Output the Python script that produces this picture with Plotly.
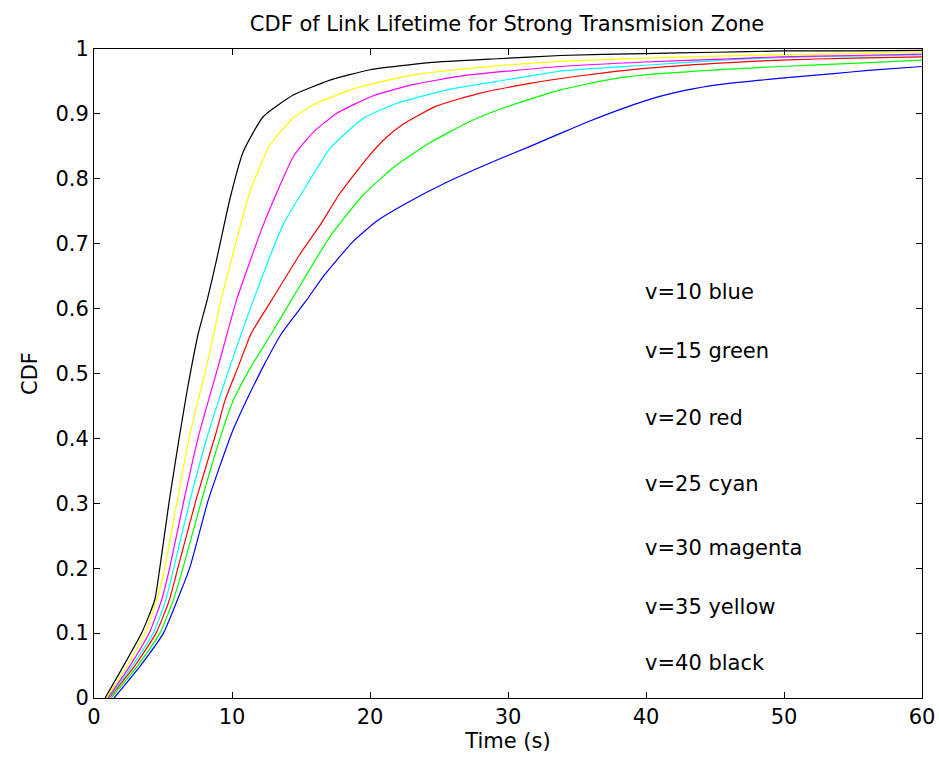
import plotly.graph_objects as go

# ---- data (time in s, CDF) ----
t_v10 = [1.45, 3.3, 5.03, 6.04, 6.96, 8.28, 9.98, 11.06, 12.27, 13.6, 15.4, 16.7, 18.8, 20.5, 22.7, 25.6, 29.2, 31.6, 33.8, 35.8, 38.4, 41.0, 43.5, 46.0, 49.8, 53.6, 56.1, 60]
c_v10 = [0, 0.048, 0.10, 0.151, 0.202, 0.305, 0.408, 0.459, 0.511, 0.562, 0.613, 0.652, 0.704, 0.735, 0.763, 0.795, 0.829, 0.850, 0.870, 0.888, 0.909, 0.927, 0.939, 0.947, 0.955, 0.962, 0.967, 0.973]

t_v15 = [1.25, 3.1, 4.78, 5.75, 6.47, 7.8, 9.25, 10.1, 11.4, 12.87, 14.3, 15.2, 17.1, 19.5, 21.9, 24.3, 27.2, 29.9, 33.8, 37.1, 39.9, 46.0, 49.8, 55, 60]
c_v15 = [0, 0.048, 0.10, 0.151, 0.202, 0.305, 0.408, 0.459, 0.511, 0.562, 0.613, 0.645, 0.711, 0.775, 0.821, 0.855, 0.888, 0.911, 0.937, 0.952, 0.960, 0.969, 0.973, 0.978, 0.983]

t_v20 = [1.1, 2.9, 4.5, 5.46, 6.1, 7.39, 8.84, 9.5, 10.46, 11.4, 12.87, 14.9, 16.4, 17.8, 19.8, 21.2, 22.4, 24.8, 28.0, 31.6, 35, 39.9, 45, 49.8, 55, 60]
c_v20 = [0, 0.048, 0.10, 0.151, 0.202, 0.305, 0.408, 0.459, 0.511, 0.562, 0.613, 0.683, 0.729, 0.777, 0.832, 0.864, 0.884, 0.912, 0.932, 0.947, 0.958, 0.970, 0.978, 0.983, 0.986, 0.988]

t_v25 = [1.05, 2.73, 4.3, 5.2, 5.8, 6.96, 8.28, 9.86, 11.55, 13.7, 15.4, 17.1, 19.5, 21.9, 25.6, 29.2, 33.8, 39.9, 45, 49.8, 55, 60]
c_v25 = [0, 0.048, 0.10, 0.151, 0.202, 0.305, 0.408, 0.511, 0.613, 0.729, 0.790, 0.847, 0.893, 0.916, 0.937, 0.950, 0.966, 0.975, 0.982, 0.987, 0.989, 0.991]

t_v30 = [1.0, 2.56, 4.0, 4.9, 5.5, 6.52, 7.63, 9.0, 10.33, 12.27, 14.44, 15.9, 17.6, 20.24, 23.1, 26.8, 33.8, 39.9, 45, 49.8, 55, 60]
c_v30 = [0, 0.048, 0.10, 0.151, 0.202, 0.305, 0.408, 0.511, 0.613, 0.729, 0.834, 0.872, 0.901, 0.928, 0.945, 0.959, 0.973, 0.980, 0.984, 0.988, 0.990, 0.992]

t_v35 = [0.9, 2.37, 3.7, 4.54, 5.14, 6.04, 6.96, 8.16, 9.2, 9.86, 11.3, 12.75, 14.4, 15.9, 19.0, 23.1, 29.2, 33.8, 39.9, 45, 49.8, 55, 60]
c_v35 = [0, 0.048, 0.10, 0.151, 0.202, 0.305, 0.408, 0.511, 0.613, 0.667, 0.780, 0.852, 0.893, 0.914, 0.940, 0.960, 0.974, 0.981, 0.986, 0.989, 0.991, 0.993, 0.996]

t_v40 = [0.8, 2.1, 3.45, 4.4, 4.78, 5.46, 6.23, 6.76, 7.56, 8.2, 8.88, 9.86, 10.82, 12.27, 14.44, 17.1, 20.0, 24.3, 29.2, 33.8, 39.9, 45, 49.8, 55, 60]
c_v40 = [0, 0.048, 0.10, 0.151, 0.202, 0.305, 0.408, 0.475, 0.562, 0.613, 0.675, 0.770, 0.842, 0.896, 0.929, 0.952, 0.968, 0.979, 0.985, 0.990, 0.993, 0.995, 0.997, 0.997, 0.998]

series_colors = ["#0000ff", "#00ff00", "#ff0000", "#00ffff", "#ff00ff", "#ffff00", "#000000"]
label_texts = ["v=10 blue", "v=15 green", "v=20 red", "v=25 cyan", "v=30 magenta", "v=35 yellow", "v=40 black"]
label_x = [40, 40, 40, 40, 40, 40, 40]
label_y = [0.626, 0.535, 0.431, 0.330, 0.231, 0.140, 0.054]

x_ticks = [0, 10, 20, 30, 40, 50, 60]
y_ticks = [0, 0.1, 0.2, 0.3, 0.4, 0.5, 0.6, 0.7, 0.8, 0.9, 1]
y_ticktext = ["0", "0.1", "0.2", "0.3", "0.4", "0.5", "0.6", "0.7", "0.8", "0.9", "1"]

FONT = "DejaVu Sans, Liberation Sans, Arial, sans-serif"

fig = go.Figure()
all_t = [t_v10, t_v15, t_v20, t_v25, t_v30, t_v35, t_v40]
all_c = [c_v10, c_v15, c_v20, c_v25, c_v30, c_v35, c_v40]
for t, c, col, name in zip(all_t, all_c, series_colors, label_texts):
    fig.add_trace(go.Scatter(x=t, y=c, mode="lines", name=name,
                             line=dict(color=col, width=1.2, shape="spline", smoothing=0.5),
                             showlegend=False, hoverinfo="skip"))

for txt, lx, ly in zip(label_texts, label_x, label_y):
    fig.add_annotation(x=lx, y=ly, text=txt, showarrow=False, xanchor="left", yanchor="middle",
                       xshift=-3, font=dict(family=FONT, size=21, color="black"))

axis_common = dict(showgrid=False, zeroline=False, showline=True, linecolor="black", linewidth=1,
                   mirror="ticks", ticks="inside", ticklen=6, tickcolor="black", tickwidth=1,
                   tickfont=dict(family=FONT, size=21, color="black"))

fig.update_layout(
    width=939, height=772,
    paper_bgcolor="white", plot_bgcolor="white",
    margin=dict(l=94, r=17, t=49, b=74, autoexpand=False),
    title=dict(text="CDF of Link Lifetime for Strong Transmision Zone", x=0.54, xanchor="center",
               y=0.97, yanchor="middle", font=dict(family=FONT, size=21, color="black")),
    xaxis=dict(range=[0, 60], tickvals=x_ticks, title=dict(text="Time (s)", standoff=4,
               font=dict(family=FONT, size=21, color="black")), **axis_common),
    yaxis=dict(range=[0, 1], tickvals=y_ticks, ticktext=y_ticktext,
               title=dict(text="CDF", standoff=12, font=dict(family=FONT, size=21, color="black")),
               **axis_common),
)

fig.write_html("out.html", config={"displayModeBar": False},
               post_script="document.body.style.margin='0';document.body.style.padding='0';")
